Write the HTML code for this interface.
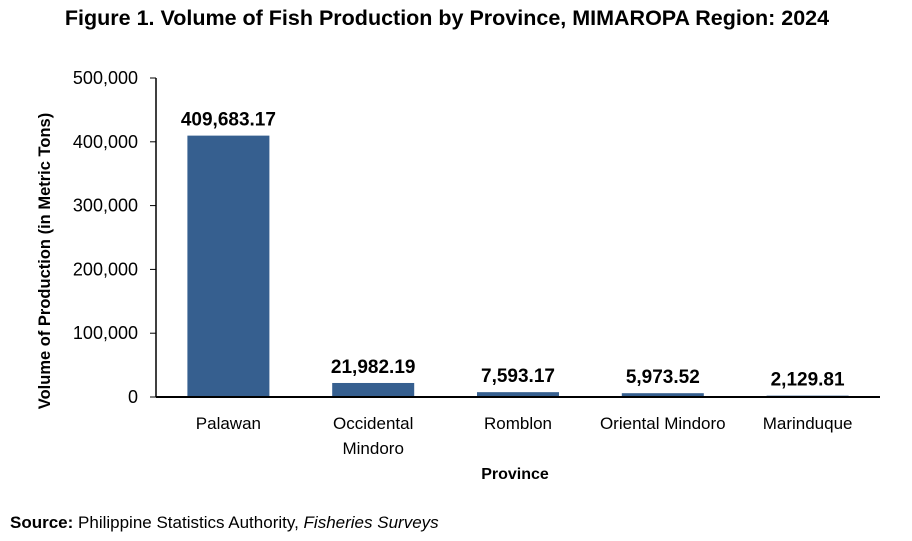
<!DOCTYPE html>
<html><head><meta charset="utf-8"><style>
body{margin:0;background:#fff;width:912px;height:541px;overflow:hidden}
svg{display:block;font-family:"Liberation Sans",sans-serif}
</style></head><body>
<svg id="c" width="912" height="541" xmlns="http://www.w3.org/2000/svg">
<text x="447" y="25" text-anchor="middle" font-family="Liberation Sans, sans-serif" font-weight="bold" font-size="21.5">Figure 1. Volume of Fish Production by Province, MIMAROPA Region: 2024</text>
<text transform="translate(50,261) rotate(-90)" text-anchor="middle" font-weight="bold" font-size="16.5">Volume of Production (in Metric Tons)</text>
<text x="515" y="479" text-anchor="middle" font-weight="bold" font-size="16">Province</text>
<text x="10" y="528" font-family="Liberation Sans, sans-serif" font-size="17"><tspan font-weight="bold">Source:</tspan> Philippine Statistics Authority, <tspan font-style="italic">Fisheries Surveys</tspan></text>
<g id="g"></g>
</svg>
<script>
const categories=[["Palawan"],["Occidental","Mindoro"],["Romblon"],["Oriental Mindoro"],["Marinduque"]];
const values=[409683.17,21982.19,7593.17,5973.52,2129.81];
const valueLabels=["409,683.17","21,982.19","7,593.17","5,973.52","2,129.81"];
const ticks=[0,100000,200000,300000,400000,500000];
const tickLabels=["0","100,000","200,000","300,000","400,000","500,000"];
const NS="http://www.w3.org/2000/svg",g=document.getElementById('g');
const x0=156,x1=880,y0=397,yTop=78,maxV=500000;
const y=v=>y0-(v/maxV)*(y0-yTop);
const band=(x1-x0)/categories.length;
const xc=i=>x0+band*(i+0.5);
function mk(t,a){const e=document.createElementNS(NS,t);for(const k in a)e.setAttribute(k,a[k]);g.appendChild(e);return e;}
ticks.forEach((t,i)=>{
 const tx=mk('text',{x:138,y:y(t)+6,'text-anchor':'end','font-size':18});
 
 
 tx.textContent=tickLabels[i];
 const tk=mk('line',{x1:150,x2:156,y1:y(t),y2:y(t),stroke:'#000'});
 
 
});
values.forEach((v,i)=>{
 const r=mk('rect',{x:xc(i)-41,y:y(v),width:82,height:y0-y(v),fill:'#365f8f'});
 
 
 const l=mk('text',{x:xc(i),y:y(v)-10,'text-anchor':'middle','font-size':19,'font-weight':'bold'});
 
 
 l.textContent=valueLabels[i];
 categories[i].forEach((s,j)=>{
  const c=mk('text',{x:xc(i),y:429+j*25,'text-anchor':'middle','font-size':17});
  
  
  c.textContent=s;
 });
});
const ax=mk('line',{x1:x0,x2:x0,y1:yTop,y2:y0,stroke:'#000','stroke-width':1.5});


const bx=mk('line',{x1:x0,x2:x1,y1:y0,y2:y0,stroke:'#000','stroke-width':2});


</script>
</body></html>
